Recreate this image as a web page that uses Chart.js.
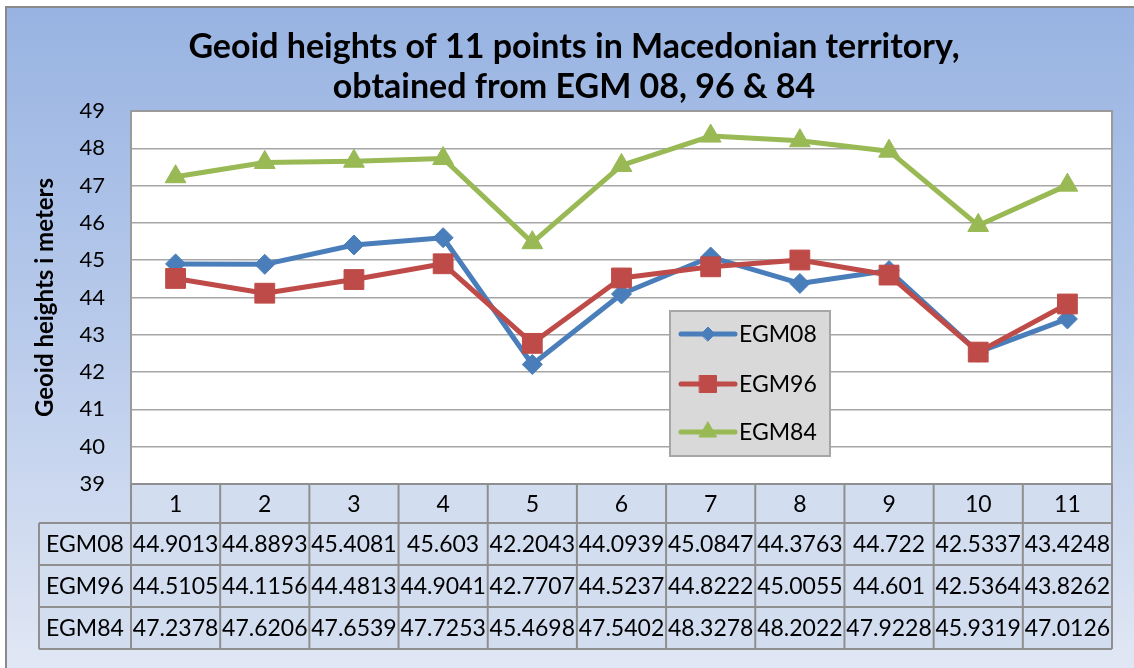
<!DOCTYPE html>
<html><head><meta charset="utf-8">
<script src="https://cdn.jsdelivr.net/npm/chart.js@4.4.1/dist/chart.umd.min.js"></script>
<style>html,body{margin:0;padding:0;background:#fff;}canvas{display:block;}</style>
</head><body>
<canvas id="c" width="1134" height="668"></canvas>
<script>
// ---------------- data ----------------
const titleLines = ['Geoid heights of 11 points in Macedonian territory,', 'obtained from EGM 08, 96 & 84'];
const yAxisTitle = 'Geoid heights i meters';
const categories = ['1', '2', '3', '4', '5', '6', '7', '8', '9', '10', '11'];
const seriesNames = ['EGM08', 'EGM96', 'EGM84'];
const egm08 = [44.9013, 44.8893, 45.4081, 45.603, 42.2043, 44.0939, 45.0847, 44.3763, 44.722, 42.5337, 43.4248];
const egm96 = [44.5105, 44.1156, 44.4813, 44.9041, 42.7707, 44.5237, 44.8222, 45.0055, 44.601, 42.5364, 43.8262];
const egm84 = [47.2378, 47.6206, 47.6539, 47.7253, 45.4698, 47.5402, 48.3278, 48.2022, 47.9228, 45.9319, 47.0126];
const yMin = 39, yMax = 49, yStep = 1;

// ---------------- styles ----------------
const FONT = 'Lato, "Open Sans", sans-serif';
const seriesValues = [egm08, egm96, egm84];
const seriesColors = ['#4a7ebb', '#be4b48', '#98b954'];
const seriesPoint = [
  { style: 'rectRot', radius: 10, legendRadius: 7 },
  { style: 'rect', radius: 14, legendRadius: 12 },
  { style: 'triangle', radius: 12, legendRadius: 10 }
];

function drawMarker(ctx, style, r, x, y, color) {
  ctx.save();
  ctx.fillStyle = color; ctx.strokeStyle = color; ctx.lineWidth = 1;
  ctx.beginPath();
  if (style === 'rectRot') {
    ctx.moveTo(x - r, y); ctx.lineTo(x, y - r); ctx.lineTo(x + r, y); ctx.lineTo(x, y + r); ctx.closePath();
  } else if (style === 'rect') {
    const s = Math.SQRT1_2 * r; ctx.rect(x - s, y - s, 2 * s, 2 * s);
  } else {
    const w = r * Math.sqrt(3);
    ctx.moveTo(x, y - r); ctx.lineTo(x + w / 2, y + r / 2); ctx.lineTo(x - w / 2, y + r / 2); ctx.closePath();
  }
  ctx.fill(); ctx.stroke();
  ctx.restore();
}

const decorPlugin = {
  id: 'decor',
  beforeDraw(chart) {
    const ctx = chart.ctx, W = chart.width, H = chart.height, ca = chart.chartArea;
    ctx.save();
    ctx.fillStyle = '#ffffff'; ctx.fillRect(0, 0, W, H);
    const g = ctx.createLinearGradient(0, 7, 0, H);
    g.addColorStop(0, '#98b3e2');
    g.addColorStop(0.5, '#b9cbeb');
    g.addColorStop(1, '#e1e7f4');
    ctx.fillStyle = g; ctx.fillRect(6, 7, W - 6, H - 7);
    ctx.strokeStyle = '#8a8a8a'; ctx.lineWidth = 2;
    ctx.beginPath(); ctx.moveTo(6, H); ctx.lineTo(6, 7); ctx.lineTo(W, 7); ctx.stroke();
    ctx.fillStyle = '#ffffff'; ctx.fillRect(ca.left, ca.top, ca.right - ca.left, ca.bottom - ca.top);
    ctx.restore();
  },
  beforeDatasetsDraw(chart) {
    const ctx = chart.ctx, ca = chart.chartArea;
    ctx.save();
    ctx.strokeStyle = '#9a9a9a'; ctx.lineWidth = 2;
    ctx.strokeRect(ca.left, ca.top, ca.right - ca.left, ca.bottom - ca.top);
    ctx.restore();
  },
  afterDraw(chart) {
    const ctx = chart.ctx, ca = chart.chartArea, xs = chart.scales.x;
    ctx.save();
    // title
    ctx.fillStyle = '#000';
    ctx.font = 'bold 34px ' + FONT;
    ctx.textAlign = 'center'; ctx.textBaseline = 'alphabetic';
    ctx.fillText(titleLines[0], 574, 58);
    ctx.fillText(titleLines[1], 574, 98);

    // data table
    const n = categories.length;
    const colW = (ca.right - ca.left) / n;
    const headTop = ca.bottom, headH = 39, rowH = 42, labelLeft = 39;
    const rowsTop = headTop + headH;
    ctx.fillStyle = '#d3ddf0';
    ctx.fillRect(ca.left, headTop, ca.right - ca.left, headH);
    ctx.fillRect(labelLeft, rowsTop, ca.right - labelLeft, rowH * seriesNames.length);
    ctx.strokeStyle = '#8f8f8f'; ctx.lineWidth = 2;
    ctx.beginPath();
    ctx.moveTo(ca.left, headTop); ctx.lineTo(ca.right, headTop);
    for (let r = 0; r <= seriesNames.length; r++) {
      const y = rowsTop + r * rowH;
      ctx.moveTo(labelLeft, y); ctx.lineTo(ca.right, y);
    }
    ctx.moveTo(labelLeft, rowsTop); ctx.lineTo(labelLeft, rowsTop + rowH * seriesNames.length);
    for (let i = 0; i <= n; i++) {
      const x = ca.left + i * colW;
      ctx.moveTo(x, headTop); ctx.lineTo(x, rowsTop + rowH * seriesNames.length);
    }
    ctx.stroke();

    ctx.fillStyle = '#000';
    ctx.font = '23px ' + FONT;
    ctx.textAlign = 'center'; ctx.textBaseline = 'middle';
    categories.forEach((c, i) => ctx.fillText(c, xs.getPixelForValue(i), headTop + headH / 2 + 1));
    seriesNames.forEach((name, r) => {
      const yc = rowsTop + r * rowH + rowH / 2 + 1;
      ctx.fillText(name, (labelLeft + ca.left) / 2, yc);
      seriesValues[r].forEach((v, i) => ctx.fillText(String(v), xs.getPixelForValue(i), yc));
    });

    // legend
    const lx = 670, ly = 311, lw = 160, lh = 145;
    ctx.fillStyle = '#d9d9d9'; ctx.fillRect(lx, ly, lw, lh);
    ctx.strokeStyle = '#a6a6a6'; ctx.lineWidth = 2; ctx.strokeRect(lx, ly, lw, lh);
    const entryY = [334, 384, 432];
    seriesNames.forEach((name, i) => {
      const y = entryY[i];
      ctx.strokeStyle = seriesColors[i]; ctx.lineWidth = 5; ctx.lineCap = 'round';
      ctx.beginPath(); ctx.moveTo(681, y); ctx.lineTo(735, y); ctx.stroke();
      drawMarker(ctx, seriesPoint[i].style, seriesPoint[i].legendRadius, 708, y, seriesColors[i]);
      ctx.fillStyle = '#000'; ctx.font = '23px ' + FONT;
      ctx.textAlign = 'left'; ctx.textBaseline = 'middle';
      ctx.fillText(name, 739, y + 1);
    });
    ctx.restore();
  }
};

const datasets = seriesNames.map((name, i) => ({
  label: name,
  data: seriesValues[i],
  borderColor: seriesColors[i],
  backgroundColor: seriesColors[i],
  borderWidth: 5,
  borderJoinStyle: 'round',
  borderCapStyle: 'round',
  tension: 0,
  pointStyle: seriesPoint[i].style,
  pointRadius: seriesPoint[i].radius,
  pointBorderWidth: 1,
  pointBackgroundColor: seriesColors[i],
  pointBorderColor: seriesColors[i],
  order: seriesNames.length - i,
  clip: false
}));

new Chart(document.getElementById('c'), {
  type: 'line',
  data: { labels: categories, datasets },
  options: {
    responsive: false,
    animation: false,
    devicePixelRatio: 1,
    events: [],
    layout: { padding: { top: 111, bottom: 184, right: 22, left: 0 } },
    plugins: { legend: { display: false }, title: { display: false }, tooltip: { enabled: false } },
    scales: {
      x: { type: 'category', display: false, offset: true },
      y: {
        min: yMin, max: yMax,
        ticks: { stepSize: yStep, color: '#000', padding: 26, font: { family: FONT, size: 22 } },
        grid: { color: '#a6a6a6', lineWidth: 1.5, drawTicks: false },
        border: { display: false },
        title: { display: true, text: yAxisTitle, color: '#000', font: { family: FONT, size: 24, weight: 'bold' }, padding: { top: 31, bottom: 0 } },
        afterFit(scale) { scale.width = 131; }
      }
    }
  },
  plugins: [decorPlugin]
});
</script>
</body></html>
